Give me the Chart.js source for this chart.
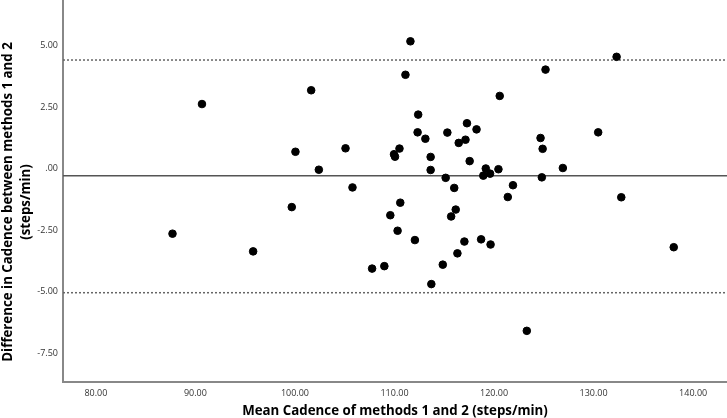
<!DOCTYPE html>
<html lang="en">
<head>
    <meta charset="UTF-8">
    <title>Bland-Altman plot of cadence</title>
    <script src="https://cdn.jsdelivr.net/npm/chart.js"></script>
    <style>
        body {
            margin: 0;
            background-color: #fff;
        }
        .container {
            width: 727px;
            height: 418px;
        }
    </style>
</head>
<body>
    <div class="container">
        <canvas id="baChart" width="727" height="418"></canvas>
    </div>

    <script>
        // Mean cadence of the two methods (steps/min)
        const meanCadence = [
            87.7, 90.66, 95.8, 99.68, 100.05, 101.63, 102.4, 105.08, 105.78, 107.75,
            108.98, 109.58, 109.95, 110.05, 110.31, 110.5, 110.58, 111.1, 111.6, 112.05,
            112.32, 112.38, 113.1, 113.63, 113.63, 113.7, 114.85, 115.14, 115.31, 115.69,
            116.0, 116.15, 116.32, 116.45, 117.02, 117.13, 117.28, 117.55, 118.24, 118.7,
            118.92, 119.17, 119.6, 119.65, 120.44, 120.57, 121.38, 121.9, 123.29, 124.67,
            124.8, 124.88, 125.17, 126.91, 130.46, 132.31, 132.78, 138.05
        ];
        // Difference between methods 1 and 2 (steps/min)
        const diffCadence = [
            -2.65, 2.62, -3.37, -1.57, 0.68, 3.18, -0.05, 0.82, -0.77, -4.07,
            -3.97, -1.90, 0.58, 0.48, -2.53, 0.81, -1.39, 3.81, 5.17, -2.91,
            1.47, 2.19, 1.21, 0.47, -0.06, -4.70, -3.91, -0.38, 1.46, -1.95,
            -0.79, -1.67, -3.45, 1.04, -2.97, 1.17, 1.84, 0.30, 1.59, -2.88,
            -0.29, 0.00, -0.21, -3.09, -0.03, 2.95, -1.16, -0.68, -6.60, 1.24,
            -0.36, 0.80, 4.02, 0.02, 1.47, 4.54, -1.17, -3.20
        ];

        // mean difference and limits of agreement
        const meanDiff = -0.30;
        const upperLimit = 4.41;
        const lowerLimit = -5.05;

        const xRange = [76.7, 143.4];
        const yRange = [-8.68, 6.85];
        const xTicks = [80, 90, 100, 110, 120, 130, 140];
        const yTicks = [-7.5, -5, -2.5, 0, 2.5, 5];
        const yTitleLines = ['Difference in Cadence between methods 1 and 2', '(steps/min)'];

        function fmt(v) {
            let s = v.toFixed(2);
            if (s === '0.00') s = '.00';
            return s;
        }

        const points = meanCadence.map((x, i) => ({ x: x, y: diffCadence[i] }));
        const hLine = v => xRange.map(x => ({ x: x, y: v }));

        // y axis title, drawn by hand so it can sit a little below the middle like the original
        const yTitlePlugin = {
            id: 'yTitle',
            afterDraw(chart) {
                const c = chart.ctx;
                c.save();
                c.translate(0, 202);
                c.rotate(-Math.PI / 2);
                c.fillStyle = '#000';
                c.font = 'bold 13.3px "Open Sans"';
                c.textAlign = 'center';
                c.textBaseline = 'middle';
                c.fillText(yTitleLines[0], 0, 8.5);
                c.fillText(yTitleLines[1], 0, 26);
                c.restore();
            }
        };

        const ctx = document.getElementById('baChart').getContext('2d');
        new Chart(ctx, {
            type: 'scatter',
            data: {
                datasets: [
                    {
                        data: points,
                        backgroundColor: '#000',
                        borderColor: '#000',
                        pointRadius: 3.8,
                        pointHoverRadius: 3.8,
                        order: 0
                    },
                    {
                        type: 'line',
                        data: hLine(meanDiff),
                        borderColor: '#555',
                        borderWidth: 1.5,
                        pointRadius: 0,
                        order: 1
                    },
                    {
                        type: 'line',
                        data: hLine(upperLimit),
                        borderColor: '#666',
                        borderWidth: 1.5,
                        borderDash: [2, 2],
                        pointRadius: 0,
                        order: 1
                    },
                    {
                        type: 'line',
                        data: hLine(lowerLimit),
                        borderColor: '#666',
                        borderWidth: 1.5,
                        borderDash: [2, 2],
                        pointRadius: 0,
                        order: 1
                    }
                ]
            },
            options: {
                responsive: false,
                animation: false,
                layout: { padding: 0, autoPadding: false },
                plugins: {
                    legend: { display: false },
                    tooltip: { enabled: false }
                },
                scales: {
                    x: {
                        type: 'linear',
                        min: xRange[0],
                        max: xRange[1],
                        afterBuildTicks: s => { s.ticks = xTicks.map(v => ({ value: v })); },
                        afterFit: s => { s.height = 36; s.paddingLeft = 0; s.paddingRight = 0; },
                        grid: { display: false, drawTicks: false },
                        border: { display: true, color: '#888', width: 2 },
                        ticks: {
                            padding: 6,
                            maxRotation: 0,
                            color: '#333',
                            font: { family: 'Open Sans', size: 9 },
                            callback: v => fmt(v)
                        },
                        title: {
                            display: true,
                            text: 'Mean Cadence of methods 1 and 2 (steps/min)',
                            color: '#000',
                            padding: { top: 0, bottom: -1 },
                            font: { family: 'Open Sans', size: 13.3, weight: 'bold' }
                        }
                    },
                    y: {
                        min: yRange[0],
                        max: yRange[1],
                        afterBuildTicks: s => { s.ticks = yTicks.map(v => ({ value: v })); },
                        afterFit: s => { s.width = 63; s.paddingTop = 0; s.paddingBottom = 0; },
                        grid: { display: false, drawTicks: false },
                        border: { display: true, color: '#888', width: 2 },
                        ticks: {
                            padding: 5,
                            color: '#333',
                            font: { family: 'Open Sans', size: 9 },
                            callback: v => fmt(v)
                        }
                    }
                }
            },
            plugins: [yTitlePlugin]
        });
    </script>
</body>
</html>
